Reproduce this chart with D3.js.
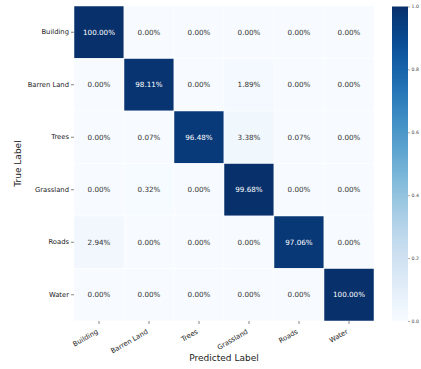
<!DOCTYPE html>
<html>
<head>
<meta charset="utf-8">
<script src="https://cdn.jsdelivr.net/npm/d3@7"></script>
<style>
  html, body { margin: 0; padding: 0; background: #fff; }
  svg { display: block; font-family: "DejaVu Sans", sans-serif; }
</style>
</head>
<body>
<svg id="chart" width="421" height="369"></svg>
<script>
// Class names shared by both axes
const classes = ["Building", "Barren Land", "Trees", "Grassland", "Roads", "Water"];

// Row-normalised confusion matrix (percent), rows = true, columns = predicted
const rowBuilding   = [100.00, 0.00, 0.00, 0.00, 0.00, 0.00];
const rowBarren     = [0.00, 98.11, 0.00, 1.89, 0.00, 0.00];
const rowTrees      = [0.00, 0.07, 96.48, 3.38, 0.07, 0.00];
const rowGrassland  = [0.00, 0.32, 0.00, 99.68, 0.00, 0.00];
const rowRoads      = [2.94, 0.00, 0.00, 0.00, 97.06, 0.00];
const rowWater      = [0.00, 0.00, 0.00, 0.00, 0.00, 100.00];
const matrix = [rowBuilding, rowBarren, rowTrees, rowGrassland, rowRoads, rowWater];

const colorbarTicks = [0.0, 0.2, 0.4, 0.6, 0.8, 1.0];

const svg = d3.select("#chart");

const plot = { left: 74, right: 374, top: 6, bottom: 321 };
const x = d3.scaleBand().domain(classes).range([plot.left, plot.right]);
const y = d3.scaleBand().domain(classes).range([plot.top, plot.bottom]);
const color = d3.scaleSequential(d3.interpolateBlues).domain([0, 1]);

const cells = [];
matrix.forEach((row, i) => row.forEach((v, j) => cells.push({ t: classes[i], p: classes[j], v })));

// Heatmap cells
svg.append("g").selectAll("rect").data(cells).join("rect")
  .attr("x", d => x(d.p))
  .attr("y", d => y(d.t))
  .attr("width", x.bandwidth())
  .attr("height", y.bandwidth())
  .attr("fill", d => color(d.v / 100))
  .attr("stroke", "#ffffff")
  .attr("stroke-width", 0.5);

// Cell annotations
svg.append("g").selectAll("text").data(cells).join("text")
  .attr("x", d => x(d.p) + x.bandwidth() / 2)
  .attr("y", d => y(d.t) + y.bandwidth() / 2)
  .attr("dy", "0.36em")
  .attr("text-anchor", "middle")
  .attr("font-size", "7.2px")
  .attr("fill", d => d.v > 50 ? "#ffffff" : "#333333")
  .text(d => d.v.toFixed(2) + "%");

// Y axis (true label)
const yAxis = svg.append("g")
  .attr("transform", `translate(${plot.left},0)`)
  .call(d3.axisLeft(y).tickSize(3).tickPadding(2));
yAxis.select(".domain").remove();
yAxis.selectAll(".tick line").attr("stroke", "#333").attr("stroke-width", 0.6);
yAxis.selectAll(".tick text").attr("font-size", "6.8px").attr("fill", "#222")
  .attr("font-family", "DejaVu Sans, sans-serif");

// X axis (predicted label), tick labels rotated 30 degrees
const xAxis = svg.append("g")
  .attr("transform", `translate(0,${plot.bottom})`)
  .call(d3.axisBottom(x).tickSize(3).tickPadding(2));
xAxis.select(".domain").remove();
xAxis.selectAll(".tick line").attr("stroke", "#333").attr("stroke-width", 0.6);
xAxis.selectAll(".tick text")
  .attr("font-size", "6.8px").attr("fill", "#222")
  .attr("font-family", "DejaVu Sans, sans-serif")
  .attr("text-anchor", "end")
  .attr("x", -6.5)
  .attr("y", 10)
  .attr("dy", 0)
  .attr("transform", "rotate(-30)");

// Axis titles
svg.append("text")
  .attr("x", (plot.left + plot.right) / 2)
  .attr("y", 361)
  .attr("text-anchor", "middle")
  .attr("font-size", "9px")
  .attr("fill", "#222")
  .text("Predicted Label");

svg.append("text")
  .attr("transform", `translate(21,${(plot.top + plot.bottom) / 2}) rotate(-90)`)
  .attr("text-anchor", "middle")
  .attr("font-size", "9px")
  .attr("fill", "#222")
  .text("True Label");

// Colour bar
const cb = { x: 392, w: 16, top: 6.5, bottom: 321 };
const grad = svg.append("defs").append("linearGradient")
  .attr("id", "cbGrad").attr("x1", 0).attr("y1", 1).attr("x2", 0).attr("y2", 0);
d3.range(0, 1.0001, 0.05).forEach(t => {
  grad.append("stop").attr("offset", t).attr("stop-color", color(t));
});
svg.append("rect")
  .attr("x", cb.x).attr("y", cb.top)
  .attr("width", cb.w).attr("height", cb.bottom - cb.top)
  .attr("fill", "url(#cbGrad)");

const cbScale = d3.scaleLinear().domain([0, 1]).range([cb.bottom, cb.top]);
const cbAxis = svg.append("g")
  .attr("transform", `translate(${cb.x + cb.w},0)`)
  .call(d3.axisRight(cbScale).tickValues(colorbarTicks).tickFormat(d3.format(".1f")).tickSize(2).tickPadding(1.5));
cbAxis.select(".domain").remove();
cbAxis.selectAll(".tick line").attr("stroke", "#555").attr("stroke-width", 0.5);
cbAxis.selectAll(".tick text").attr("font-size", "4.6px").attr("fill", "#444")
  .attr("font-family", "DejaVu Sans, sans-serif");
</script>
</body>
</html>
